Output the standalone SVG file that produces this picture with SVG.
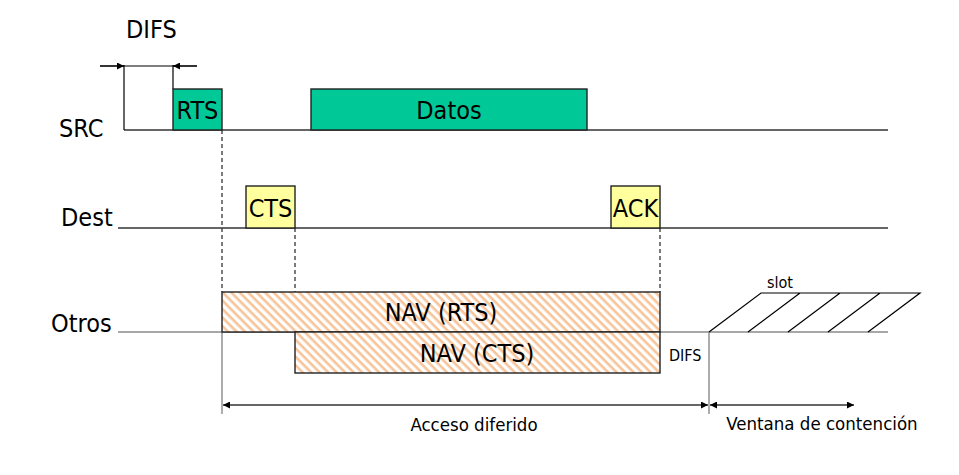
<svg xmlns="http://www.w3.org/2000/svg" width="959" height="475" viewBox="0 0 959 475">
<style>
text{font-family:"DejaVu Sans Condensed","DejaVu Sans",sans-serif;fill:#000}
.big{font-size:25px}
.mid{font-size:18.5px}
.sm{font-size:16px}
.tl{stroke:#333;stroke-width:1.4;fill:none}
.gr{stroke:#8a8a8a;stroke-width:1.4;fill:none}
.dash{stroke:#444;stroke-width:1.4;stroke-dasharray:4,3;fill:none}
.thin{stroke:#000;stroke-width:1.2;fill:none}
.green{fill:#00C896;stroke:#222;stroke-width:1.4}
.yellow{fill:#FFFF9E;stroke:#222;stroke-width:1.4}
.nav{fill:url(#hatch);stroke:#222;stroke-width:1.4}
</style>
<defs>
<pattern id="hatch" width="6" height="6" patternUnits="userSpaceOnUse" patternTransform="rotate(45)">
<rect width="6" height="6" fill="#fff"/>
<rect width="6" height="2.6" fill="#F7C49A"/>
</pattern>
<marker id="ah" viewBox="0 0 10 10" refX="10" refY="5" markerWidth="9" markerHeight="7" markerUnits="userSpaceOnUse" orient="auto-start-reverse">
<path d="M0,0 L10,5 L0,10 z" fill="#000"/>
</marker>
</defs>
<rect width="959" height="475" fill="#fff"/>
<g id="labels">
<text class="big" x="59" y="137">SRC</text>
<text class="big" x="61" y="226">Dest</text>
<text class="big" x="51" y="332">Otros</text>
<text class="big" x="126" y="38">DIFS</text>
</g>
<g id="connectors">
<line class="tl" x1="124" y1="130" x2="888" y2="130"/>
<line class="tl" x1="118" y1="228" x2="888" y2="228"/>
<line class="gr" x1="118" y1="332" x2="888" y2="332"/>
<line class="thin" x1="124" y1="65" x2="124" y2="130"/>
<line class="thin" x1="173" y1="65" x2="173" y2="89"/>
<line class="thin" x1="100" y1="66" x2="197" y2="66"/>
<line class="thin" x1="100" y1="66" x2="124" y2="66" marker-end="url(#ah)"/>
<line class="thin" x1="197" y1="66" x2="173" y2="66" marker-end="url(#ah)"/>
<line class="dash" x1="222" y1="130" x2="222" y2="292"/>
<line class="dash" x1="295" y1="228" x2="295" y2="292"/>
<line class="dash" x1="660" y1="228" x2="660" y2="292"/>
<line class="gr" x1="222" y1="332" x2="222" y2="414"/>
<line class="gr" x1="709" y1="332" x2="709" y2="414"/>
<line stroke="#333" stroke-width="1.4" x1="223" y1="405" x2="708" y2="405" marker-start="url(#ah)" marker-end="url(#ah)"/>
<line stroke="#333" stroke-width="1.4" x1="710" y1="405" x2="854" y2="405" marker-start="url(#ah)" marker-end="url(#ah)"/>
</g>
<g id="slot">
<path class="thin" d="M709,332 L761,293 L920,293 L868,332 M748,332 L800,293 M788,332 L840,293 M828,332 L880,293"/>
<text class="sm" x="767" y="288">slot</text>
</g>
<g id="rts"><rect class="green" x="173" y="89" width="49" height="41"/><text class="big" x="197.5" y="119" text-anchor="middle">RTS</text></g>
<g id="datos"><rect class="green" x="311" y="89" width="276" height="41"/><text class="big" x="449" y="119" text-anchor="middle">Datos</text></g>
<g id="cts"><rect class="yellow" x="246" y="186" width="49" height="42"/><text class="big" x="270.5" y="217" text-anchor="middle">CTS</text></g>
<g id="ack"><rect class="yellow" x="611" y="186" width="49" height="42"/><text class="big" x="635.5" y="217" text-anchor="middle">ACK</text></g>
<g id="navrts"><rect class="nav" x="222" y="292" width="438" height="40"/><text class="big" x="441" y="321" text-anchor="middle">NAV (RTS)</text></g>
<g id="navcts"><rect class="nav" x="295" y="332" width="365" height="41"/><text class="big" x="477" y="362" text-anchor="middle">NAV (CTS)</text></g>
<g id="bottom">
<text class="sm" x="669" y="361">DIFS</text>
<text class="mid" x="474" y="431" text-anchor="middle">Acceso diferido</text>
<text class="mid" x="822" y="430" text-anchor="middle">Ventana de contención</text>
</g>
</svg>
